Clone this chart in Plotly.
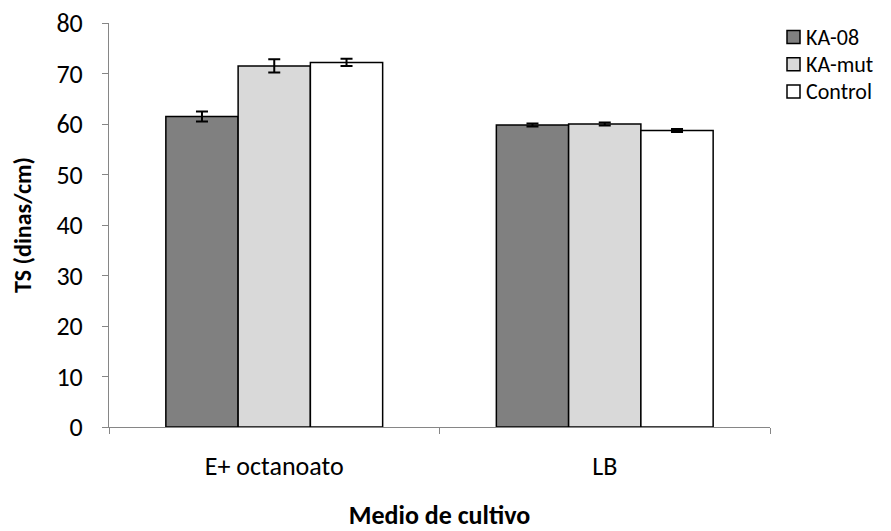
import plotly.graph_objects as go

categories = ["E+ octanoato", "LB"]
series_names = ["KA-08", "KA-mut", "Control"]
values = {
    "KA-08": [61.5, 59.8],
    "KA-mut": [71.5, 60.0],
    "Control": [72.2, 58.7],
}
errors = {
    "KA-08": [1.0, 0.3],
    "KA-mut": [1.3, 0.3],
    "Control": [0.7, 0.3],
}
fills = {"KA-08": "#808080", "KA-mut": "#d9d9d9", "Control": "#ffffff"}

FONT = "Carlito, Lato, 'Liberation Sans', sans-serif"

fig = go.Figure()
for name in series_names:
    fig.add_trace(go.Bar(
        name=name,
        x=categories,
        y=values[name],
        marker=dict(color=fills[name], line=dict(color="black", width=1.5)),
        error_y=dict(type="data", array=errors[name], color="black",
                     thickness=2, width=6),
        showlegend=False,
    ))

# Compact legend on the right: swatch squares plus labels
for i, name in enumerate(series_names):
    yc = 37 + i * 27.2          # row centre in px from the top
    y0 = 1 - (yc - 6.5 - 23) / 404
    y1 = 1 - (yc + 6.5 - 23) / 404
    fig.add_shape(type="rect", xref="paper", yref="paper",
                  x0=1 + 17 / 661, x1=1 + 30 / 661, y0=y1, y1=y0,
                  fillcolor=fills[name], line=dict(color="black", width=1.5))
    fig.add_annotation(xref="paper", yref="paper", x=1 + 35 / 661,
                       y=1 - (yc - 23) / 404, text=name, showarrow=False,
                       xanchor="left", yanchor="middle", borderpad=0,
                       font=dict(size=22, family=FONT, color="black"))

fig.update_layout(
    width=891, height=531,
    margin=dict(l=109, r=121, t=23, b=104),
    paper_bgcolor="white", plot_bgcolor="white",
    barmode="group", bargap=0.344, bargroupgap=0,
    font=dict(family=FONT, size=26, color="black"),
    showlegend=False,
)
fig.update_xaxes(
    showline=True, linecolor="#868686", linewidth=1, automargin=False,
    ticks="outside", tickson="boundaries", ticklen=6, tickcolor="#868686",
    tickfont=dict(size=26), ticklabelstandoff=16,
    title=dict(text="<b>Medio de cultivo</b>", font=dict(size=26), standoff=38),
)
fig.update_yaxes(
    range=[0, 80], dtick=10, automargin=False,
    showline=True, linecolor="#868686", linewidth=1,
    ticks="outside", ticklen=6, tickcolor="#868686",
    showgrid=False, zeroline=False,
    tickfont=dict(size=26), ticklabelstandoff=14,
    title=dict(text="<b>TS (dinas/cm)</b>", font=dict(size=24), standoff=18),
)

fig.write_html("out.html")
